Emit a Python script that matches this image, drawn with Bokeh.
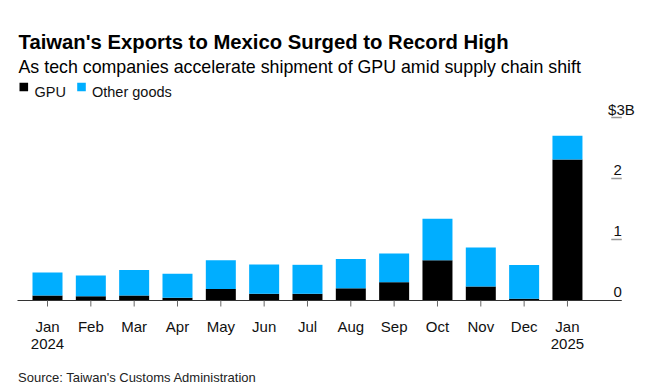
from bokeh.plotting import figure
from bokeh.models import Range1d, ColumnDataSource
from bokeh.embed import file_html
from bokeh.resources import INLINE
from bokeh.core.properties import value

# ---- data ($ billions) ----
months = ["Jan", "Feb", "Mar", "Apr", "May", "Jun", "Jul", "Aug", "Sep", "Oct", "Nov", "Dec", "Jan"]
years = ["2024", "", "", "", "", "", "", "", "", "", "", "", "2025"]
gpu = [0.08, 0.07, 0.08, 0.045, 0.19, 0.11, 0.11, 0.20, 0.30, 0.66, 0.23, 0.03, 2.31]
other = [0.38, 0.34, 0.42, 0.395, 0.47, 0.48, 0.475, 0.48, 0.47, 0.68, 0.64, 0.55, 0.39]
y_ticks = [0, 1, 2, 3]
y_tick_labels = ["0", "1", "2", "$3B"]
series_names = ["GPU", "Other goods"]
series_colors = ["#000000", "#00AEFF"]

title = "Taiwan's Exports to Mexico Surged to Record High"
subtitle = "As tech companies accelerate shipment of GPU amid supply chain shift"
source_note = "Source: Taiwan's Customs Administration"

# ---- layout ----
W, H = 661, 391
PX_X = 43.33          # px per month
PX_Y = 61.0           # px per $1B
ORIGIN_X = 47.0       # px of first category from left
BASE_Y = 300.0        # px of zero line from top

x0 = -ORIGIN_X / PX_X
x1 = x0 + W / PX_X
y0 = -(H - BASE_Y) / PX_Y
y1 = y0 + H / PX_Y


def fx(px):
    return x0 + px / PX_X


def fy(py):
    return y1 - py / PX_Y


FONT = value("Liberation Sans")

p = figure(width=W, height=H, output_backend="svg", toolbar_location=None,
           x_range=Range1d(x0, x1), y_range=Range1d(y0, y1),
           x_axis_type=None, y_axis_type=None, min_border=0)
p.outline_line_color = None
p.grid.visible = False
p.background_fill_color = "white"
p.border_fill_color = "white"

n = len(months)
xs = list(range(n))
src = ColumnDataSource(dict(x=xs, gpu=gpu, other=other, month=months, year=years))

bar_w = 30 / PX_X
p.vbar_stack(["gpu", "other"], x="x", width=bar_w, color=series_colors,
             line_color=None, source=src)

# baseline
left_end = -bar_w
right_end = (n - 1) + 54.3 / PX_X
p.segment(x0=[left_end], y0=[0], x1=[right_end], y1=[0], line_color="#333333", line_width=1.2)

# x ticks
p.segment(x0=xs, y0=[0] * n, x1=xs, y1=[-6 / PX_Y] * n, line_color="#666666", line_width=1)

# x labels
p.text(x="x", y=0, text="month", source=src, text_font=FONT, text_font_size="15px",
       text_align="center", text_baseline="alphabetic", y_offset=25.7, text_color="#111111")
p.text(x="x", y=0, text="year", source=src, text_font=FONT, text_font_size="15px",
       text_align="center", text_baseline="alphabetic", y_offset=43.3, text_color="#111111")

# y ticks (right side)
tk = [t for t in y_ticks if t != 0]
p.segment(x0=[right_end - 10.5 / PX_X] * len(tk), y0=tk, x1=[right_end] * len(tk), y1=tk,
          line_color="#999999", line_width=1.5)
for t, lab in zip(y_ticks, y_tick_labels):
    xo = 13 if lab.startswith("$") else 0
    p.text(x=[right_end], y=[t], text=[lab], text_font=FONT, text_font_size="15px",
           text_align="right", text_baseline="alphabetic", y_offset=-8.5, x_offset=xo,
           text_color="#111111")

# titles
p.text(x=[fx(18)], y=[fy(41)], text=[title], text_font=FONT, text_font_size="20.3px",
       text_font_style="bold", text_align="left", text_baseline="alphabetic", text_color="#000000")
p.text(x=[fx(18)], y=[fy(66.5)], text=[subtitle], text_font=FONT, text_font_size="17.8px",
       text_align="left", text_baseline="alphabetic", text_color="#000000")

# legend
leg_sq_x = [19, 76.7]
leg_tx_x = [34, 91.5]
for sx, tx, name, col in zip(leg_sq_x, leg_tx_x, series_names, series_colors):
    p.rect(x=[fx(sx + 4.3)], y=[fy(86.5)], width=8.6 / PX_X, height=8.6 / PX_Y,
           fill_color=col, line_color=None)
    p.text(x=[fx(tx)], y=[fy(91)], text=[name], text_font=FONT, text_font_size="14.5px",
           text_align="left", text_baseline="alphabetic", text_color="#111111")

# source
p.text(x=[fx(17.5)], y=[fy(377.3)], text=[source_note], text_font=FONT, text_font_size="13px",
       text_align="left", text_baseline="alphabetic", text_color="#222222")

open("out.html", "w").write(file_html(p, INLINE))
